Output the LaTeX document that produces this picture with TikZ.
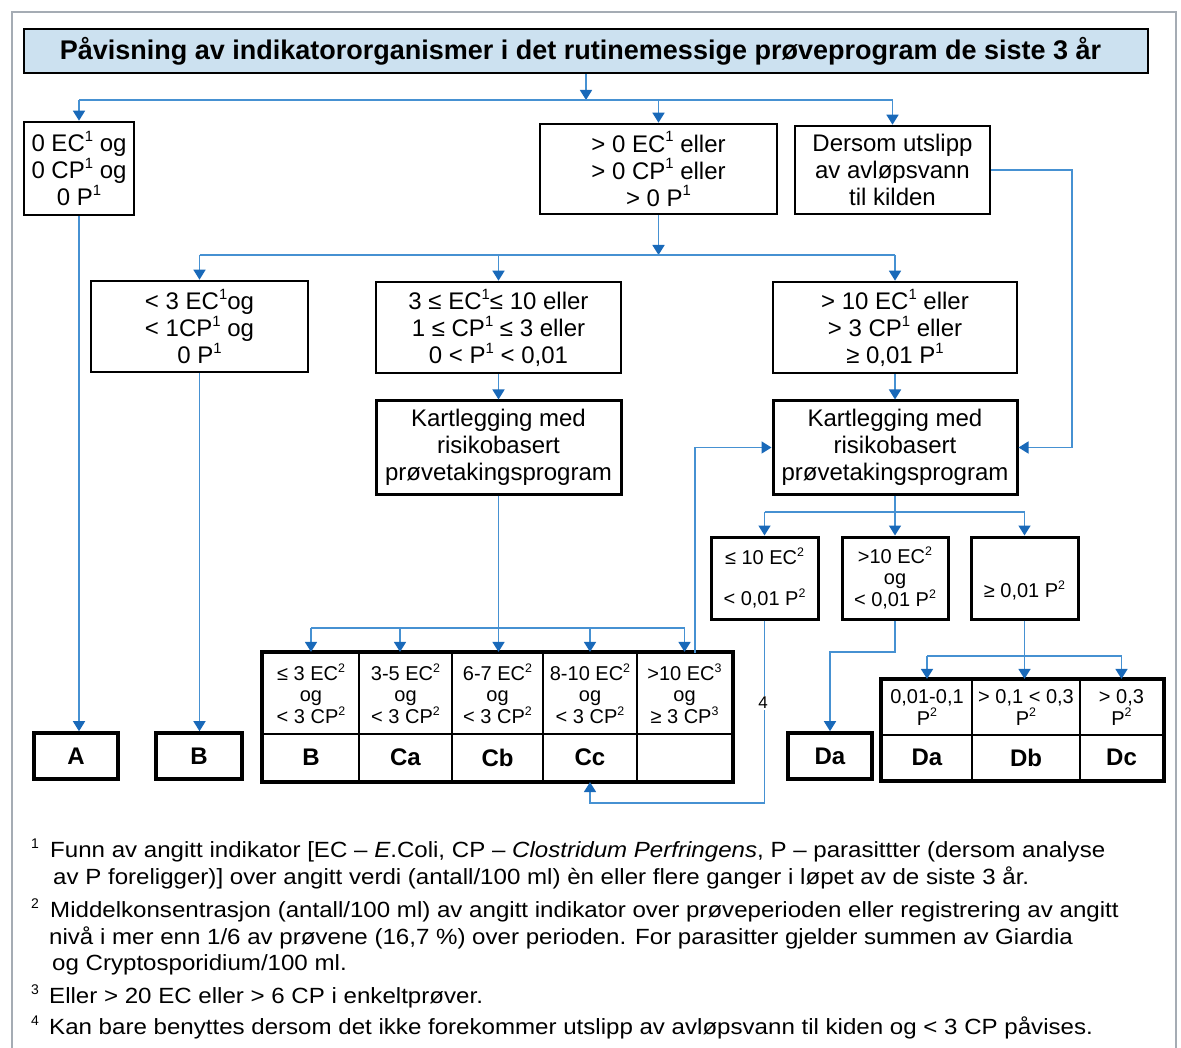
\documentclass[tikz,border=0pt]{standalone}
\usepackage{fontspec}
\setmainfont{Liberation Sans}
\usepackage{graphicx}
\usetikzlibrary{arrows.meta,calc}
\definecolor{lnblue}{RGB}{70,145,210}
\definecolor{tipblue}{RGB}{25,105,185}
\definecolor{titlebg}{RGB}{204,225,240}
\definecolor{framegray}{RGB}{165,172,180}
\newcommand\su[1]{\raisebox{0.42em}{\scalebox{0.62}{#1}}}
\newcommand\fs[2]{\fontsize{#1}{#2}\selectfont}
\newcommand\wide[1]{\scalebox{1.095}[1]{#1}}
\begin{document}
\begin{tikzpicture}[x=1pt,y=-1pt,
  conn/.style={draw=lnblue,line width=1.6pt},
  arr/.style={conn,-{Triangle[width=12pt,length=10pt,color=tipblue]}},
  box/.style={draw=black,line width=2.6pt,align=center,inner sep=0pt,font=\fs{24}{27}},
  smallbox/.style={box,font=\fs{20}{21}},
  cell/.style={draw=black,line width=2.2pt,align=center,inner sep=0pt,font=\fs{20}{21.5}},
  labcell/.style={cell,font=\fs{24}{27}\bfseries},
  lab/.style={draw=black,line width=3.6pt,align=center,inner sep=0pt,font=\fs{24}{27}\bfseries},
  note/.style={anchor=base west,inner sep=0pt,font=\fs{22}{27}},
  fnum/.style={anchor=base west,inner sep=0pt,font=\fs{14}{14}},
]
\useasboundingbox (0,0) rectangle (1181,1048);
\fill[white] (0,0) rectangle (1181,1048);
% outer frame
\draw[framegray,line width=2.5pt] (12,1048) -- (12,12) -- (1176,12) -- (1176,1048);

% title
\node[draw=black,line width=2.6pt,fill=titlebg,minimum width=1124pt,minimum height=44pt,inner sep=0pt,font=\fs{27}{30}\bfseries] (title) at (586,51)
  {Påvisning av indikatororganismer i det rutinemessige prøveprogram de siste 3 år\hspace*{11pt}};

% first level
\node[box,minimum width=110pt,minimum height=93pt] (b1) at (79,168.5) {0 EC\su{1} og\\0 CP\su{1} og\\0 P\su{1}};
\node[box,minimum width=237pt,minimum height=90pt] (b2) at (658.5,169) {> 0 EC\su{1} eller\\> 0 CP\su{1} eller\\> 0 P\su{1}};
\node[box,minimum width=195pt,minimum height=88pt] (b3) at (892.5,170) {Dersom utslipp\\av avløpsvann\\til kilden};

% second level
\node[box,minimum width=217pt,minimum height=91pt] (b4) at (199.5,326.5) {< 3 EC\su{1}og\\< 1CP\su{1} og\\0 P\su{1}};
\node[box,minimum width=245pt,minimum height=91pt] (b5) at (498.5,327.5) {3 ≤ EC\su{1}≤ 10 eller\\1 ≤ CP\su{1} ≤ 3 eller\\0 < P\su{1} < 0,01};
\node[box,minimum width=244pt,minimum height=91pt] (b6) at (895,327.5) {> 10 EC\su{1} eller\\> 3 CP\su{1} eller\\≥ 0,01 P\su{1}};

% mapping boxes
\node[box,line width=3pt,minimum width=245pt,minimum height=93pt] (k1) at (498.5,447.5) {Kartlegging med\\risikobasert\\prøvetakingsprogram};
\node[box,line width=3pt,minimum width=244pt,minimum height=93pt] (k2) at (895,447.5) {Kartlegging med\\risikobasert\\prøvetakingsprogram};

% third level right
\node[smallbox,line width=3pt,minimum width=107pt,minimum height=82pt] (b7) at (764.5,578) {≤ 10 EC\su{2}\\[20pt]< 0,01 P\su{2}};
\node[smallbox,line width=3pt,minimum width=106pt,minimum height=82pt] (b8) at (895,578) {>10 EC\su{2}\\og\\< 0,01 P\su{2}};
\node[smallbox,line width=3pt,minimum width=107pt,minimum height=82pt] (b9) at (1024.5,578) {~\\~\\≥ 0,01 P\su{2}};

% result boxes
\node[lab,minimum width=84pt,minimum height=46pt] (A) at (76,756) {A};
\node[lab,minimum width=86pt,minimum height=46pt] (B) at (199,756) {B};
\node[lab,minimum width=84pt,minimum height=46pt] (Da) at (830,756) {Da};

% C table
\node[cell,minimum width=96pt,minimum height=81pt] (c1t) at (311,693.5) {≤ 3 EC\su{2}\\og\\< 3 CP\su{2}};
\node[cell,minimum width=93pt,minimum height=81pt] (c2t) at (405.5,693.5) {3-5 EC\su{2}\\og\\< 3 CP\su{2}};
\node[cell,minimum width=91pt,minimum height=81pt] (c3t) at (497.5,693.5) {6-7 EC\su{2}\\og\\< 3 CP\su{2}};
\node[cell,minimum width=94pt,minimum height=81pt] (c4t) at (590,693.5) {8-10 EC\su{2}\\og\\< 3 CP\su{2}};
\node[cell,minimum width=95pt,minimum height=81pt] (c5t) at (684.5,693.5) {>10 EC\su{3}\\og\\≥ 3 CP\su{3}};
\node[labcell,minimum width=96pt,minimum height=47pt] (c1b) at (311,757.5) {B};
\node[labcell,minimum width=93pt,minimum height=47pt] (c2b) at (405.5,757.5) {Ca};
\node[labcell,minimum width=91pt,minimum height=47pt] (c3b) at (497.5,757.5) {Cb};
\node[labcell,minimum width=94pt,minimum height=47pt] (c4b) at (590,757.5) {Cc};
\node[labcell,minimum width=95pt,minimum height=47pt] (c5b) at (684.5,757.5) {};
\draw[black,line width=4pt] (c1t.north west) rectangle (c5b.south east);

% D table
\node[cell,minimum width=90pt,minimum height=55pt] (d1t) at (927,707.5) {0,01-0,1\\P\su{2}};
\node[cell,minimum width=108pt,minimum height=55pt] (d2t) at (1026,707.5) {> 0,1 < 0,3\\P\su{2}};
\node[cell,minimum width=83pt,minimum height=55pt] (d3t) at (1121.5,707.5) {> 0,3\\P\su{2}};
\node[labcell,minimum width=90pt,minimum height=45pt] (d1b) at (927,757.5) {Da};
\node[labcell,minimum width=108pt,minimum height=45pt] (d2b) at (1026,757.5) {Db};
\node[labcell,minimum width=83pt,minimum height=45pt] (d3b) at (1121.5,757.5) {Dc};
\draw[black,line width=4pt] (d1t.north west) rectangle (d3b.south east);

% helper coordinates
\coordinate (h1) at (0,100);
\coordinate (h2) at (0,255);
\coordinate (hC) at (0,628);
\coordinate (h3) at (0,512);
\coordinate (hD) at (0,656);
\coordinate (rr) at (1072,0);
\coordinate (fb) at (695,653);
\coordinate (lp) at (0,803);
\coordinate (l8) at (0,652);

% connectors level 1
\draw[arr] (title.south) -- (title.south |- h1);
\draw[conn] (b1.north |- h1) -- (b3.north |- h1);
\draw[arr] (b1.north |- h1) -- (b1.north);
\draw[arr] (b2.north |- h1) -- (b2.north);
\draw[arr] (b3.north |- h1) -- (b3.north);
\draw[arr] (b1.south) -- (b1.south |- A.north);
\draw[arr] (b3.east) -- (b3.east -| rr) |- (k2.east);

% connectors level 2
\draw[arr] (b2.south) -- (b2.south |- h2);
\draw[conn] (b4.north |- h2) -- (b6.north |- h2);
\draw[arr] (b4.north |- h2) -- (b4.north);
\draw[arr] (b5.north |- h2) -- (b5.north);
\draw[arr] (b6.north |- h2) -- (b6.north);
\draw[arr] (b4.south) -- (b4.south |- B.north);
\draw[arr] (b5.south) -- (k1.north);
\draw[arr] (b6.south) -- (k2.north);

% C branch
\draw[arr] (k1.south) -- (k1.south |- c3t.north);
\draw[conn] (c1t.north |- hC) -- (c5t.north |- hC);
\draw[arr] (c1t.north |- hC) -- (c1t.north);
\draw[arr] (400,628) -- (c2t.north -| 400,0);
\draw[arr] (c4t.north |- hC) -- (c4t.north);
\draw[arr] (c5t.north |- hC) -- (c5t.north);
\draw[arr] (fb) |- (k2.west);

% D branch
\draw[arr] (k2.south) -- (b8.north);
\draw[conn] (b7.north |- h3) -- (b9.north |- h3);
\draw[arr] (b7.north |- h3) -- (b7.north);
\draw[arr] (b9.north |- h3) -- (b9.north);
\draw[arr] (b7.south) -- (b7.south |- lp) -| (c4b.south);
\node[font=\fs{17}{17},fill=white,inner sep=1pt] (four) at (763,703) {4};
\draw[arr] (b8.south) -- (b8.south |- l8) -| (Da.north);
\draw[arr] (b9.south) -- (b9.south |- d2t.north);
\draw[conn] (d1t.north |- hD) -- (d3t.north |- hD);
\draw[arr] (d1t.north |- hD) -- (d1t.north);
\draw[arr] (d3t.north |- hD) -- (d3t.north);

% footnotes
\node[fnum] (f1n) at (31,848) {1};
\node[note] (f1a) at (50,857) {\wide{Funn av angitt indikator [EC – \textit{E}.Coli, CP – \textit{Clostridum Perfringens}, P – parasittter (dersom analyse}};
\node[note] (f1b) at (53,884) {\wide{av P foreligger)] over angitt verdi (antall/100 ml) èn eller flere ganger i løpet av de siste 3 år.}};
\node[fnum] (f2n) at (31,908) {2};
\node[note] (f2a) at (50,917) {\wide{Middelkonsentrasjon (antall/100 ml) av angitt indikator over prøveperioden eller registrering av angitt}};
\node[note] (f2b) at (49,944) {\wide{nivå i mer enn 1/6 av prøvene (16,7 \%) over perioden. For parasitter gjelder summen av Giardia}};
\node[note] (f2c) at (52,970) {\wide{og Cryptosporidium/100 ml.}};
\node[fnum] (f3n) at (31,994) {3};
\node[note] (f3a) at (49,1003) {\wide{Eller > 20 EC eller > 6 CP i enkeltprøver.}};
\node[fnum] (f4n) at (31,1025) {4};
\node[note] (f4a) at (49,1034) {\wide{Kan bare benyttes dersom det ikke forekommer utslipp av avløpsvann til kiden og < 3 CP påvises.}};
\end{tikzpicture}
\end{document}
